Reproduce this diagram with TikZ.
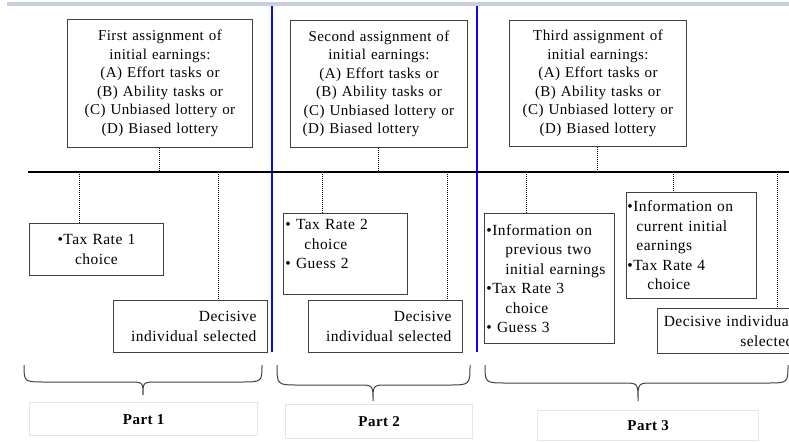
\documentclass[tikz,border=0pt]{standalone}
\usepackage{fontspec}
\setmainfont{Liberation Serif}[LetterSpace=3]
\definecolor{boxgray}{HTML}{404040}
\definecolor{bandcol}{HTML}{C8CFE0}
\definecolor{partgray}{HTML}{E6E6E6}
\definecolor{sepblue}{HTML}{0A0AF5}
\newcommand\topfs{\fontsize{15}{18.5}\selectfont}
\newcommand\botfs{\fontsize{15.5}{19.5}\selectfont}
\begin{document}
\begin{tikzpicture}[x=1pt,y=-1pt,
  box/.style={draw=boxgray, line width=0.9pt, fill=white, inner ysep=0pt, anchor=north west},
  topbox/.style={box, font=\topfs, align=center, inner xsep=4pt, text width=169pt, minimum height=127pt},
  botbox/.style={box, font=\botfs},
  dotline/.style={black, line width=1pt, dash pattern=on 1pt off 1pt},
  sepline/.style={sepblue, line width=2.2pt},
  timeline/.style={black, line width=2.6pt},
  bracestyle/.style={boxgray, line width=1pt},
  partbox/.style={draw=partgray, line width=1.3pt, fill=white, anchor=north west, inner sep=0pt, font=\fontsize{15}{18}\selectfont\bfseries}
]
\useasboundingbox (0,0) rectangle (789,442);
\clip (0,0) rectangle (789,442);

% top band
\fill[bandcol] (7,2) rectangle (789,6);

% blue separators
\coordinate (s1t) at (272,6);
\coordinate (s1b) at (272,352);
\coordinate (s2t) at (477,6);
\coordinate (s2b) at (477,352);
\draw[sepline] (s1t) -- (s1b);
\draw[sepline] (s2t) -- (s2b);

% timeline
\coordinate (tlL) at (28,172);
\coordinate (tlR) at (789,172);
\draw[timeline] (tlL) -- (tlR);

% top boxes
\node[topbox, text width=177pt, minimum height=128pt] (A1) at (67,19)
  {First assignment of\\initial earnings:\\(A) Effort tasks or\\(B) Ability tasks or\\(C) Unbiased lottery or\\(D) Biased lottery};
\node[topbox] (A2) at (290,20)
  {Second assignment of\\initial earnings:\\(A) Effort tasks or\\(B) Ability tasks or\\(C) Unbiased lottery or\\(D) Biased lottery\hspace*{36pt}\mbox{}};
\node[topbox, minimum height=126pt] (A3) at (509,20)
  {Third assignment of\\initial earnings:\\(A) Effort tasks or\\(B) Ability tasks or\\(C) Unbiased lottery or\\(D) Biased lottery};

\draw[dotline] (A1.south) -- (A1.south |- tlL);
\draw[dotline] (A2.south) -- (A2.south |- tlL);
\draw[dotline] (A3.south) -- (A3.south |- tlL);

% part 1 lower boxes
\node[botbox, align=center, inner xsep=4pt, text width=126pt, minimum height=52pt] (T1) at (29,223)
  {•Tax Rate 1\\choice};
\node[botbox, align=right, inner xsep=11pt, text width=132pt, minimum height=52pt] (D1) at (113,300)
  {Decisive\\individual selected};

% part 2 lower boxes
\node[botbox, align=left, inner xsep=2pt, text width=120pt, minimum height=81pt] (T2) at (283,213)
  {• Tax Rate 2\\\hspace*{19pt}choice\\• Guess 2\\\mbox{}};
\node[botbox, align=right, inner xsep=11pt, text width=132pt, minimum height=52pt] (D2) at (308,300)
  {Decisive\\individual selected};

% part 3 lower boxes
\node[botbox, align=left, inner xsep=2pt, text width=126pt, minimum height=130pt] (T3) at (484,213)
  {•Information on\\\hspace*{19pt}previous two\\\hspace*{19pt}initial earnings\\•Tax Rate 3\\\hspace*{19pt}choice\\• Guess 3};
\node[botbox, align=left, inner xsep=1pt, text width=128pt, minimum height=106pt] (T4) at (626,192)
  {•Information on\\\hspace*{9pt}current initial\\\hspace*{9pt}earnings\\•Tax Rate 4\\\hspace*{20pt}choice};
\node[botbox, align=right, inner xsep=1pt, text width=135pt, minimum height=45pt] (D3) at (657,308)
  {Decisive individual\\selected};

% attachment points on box tops
\coordinate (cT1) at ([xshift=50pt]T1.north west);
\coordinate (cD1) at ([xshift=105pt]D1.north west);
\coordinate (cT2) at ([xshift=39pt]T2.north west);
\coordinate (cD2) at ([xshift=139pt]D2.north west);
\coordinate (cT3) at ([xshift=42pt]T3.north west);
\coordinate (cT4) at ([xshift=47pt]T4.north west);
\coordinate (cD3) at ([xshift=120pt]D3.north west);

% dotted connectors from timeline
\foreach \c in {cT1,cD1,cT2,cD2,cT3,cT4,cD3}
  \draw[dotline] (\c |- tlL) -- (\c);

% braces
\draw[bracestyle] (24,365) .. controls (24,382) .. (46,382) -- (128,382)
  .. controls (143,382) .. (143,395) .. controls (143,382) .. (158,382) -- (240,382)
  .. controls (262,382) .. (262,365);
\draw[bracestyle] (277,365) .. controls (277,385) .. (299,385) -- (358,385)
  .. controls (373,385) .. (373,401) .. controls (373,385) .. (388,385) -- (448,385)
  .. controls (470,385) .. (470,365);
\draw[bracestyle] (485,365) .. controls (485,383) .. (507,383) -- (623,383)
  .. controls (638,383) .. (638,401) .. controls (638,383) .. (653,383) -- (766,383)
  .. controls (788,383) .. (788,365);

% part labels
\node[partbox, minimum width=228pt, minimum height=33pt] (P1) at (29,402) {Part 1};
\node[partbox, minimum width=187pt, minimum height=34pt] (P2) at (285,404) {Part 2};
\node[partbox, minimum width=221pt, minimum height=30pt] (P3) at (537,410) {Part 3};
\end{tikzpicture}
\end{document}
